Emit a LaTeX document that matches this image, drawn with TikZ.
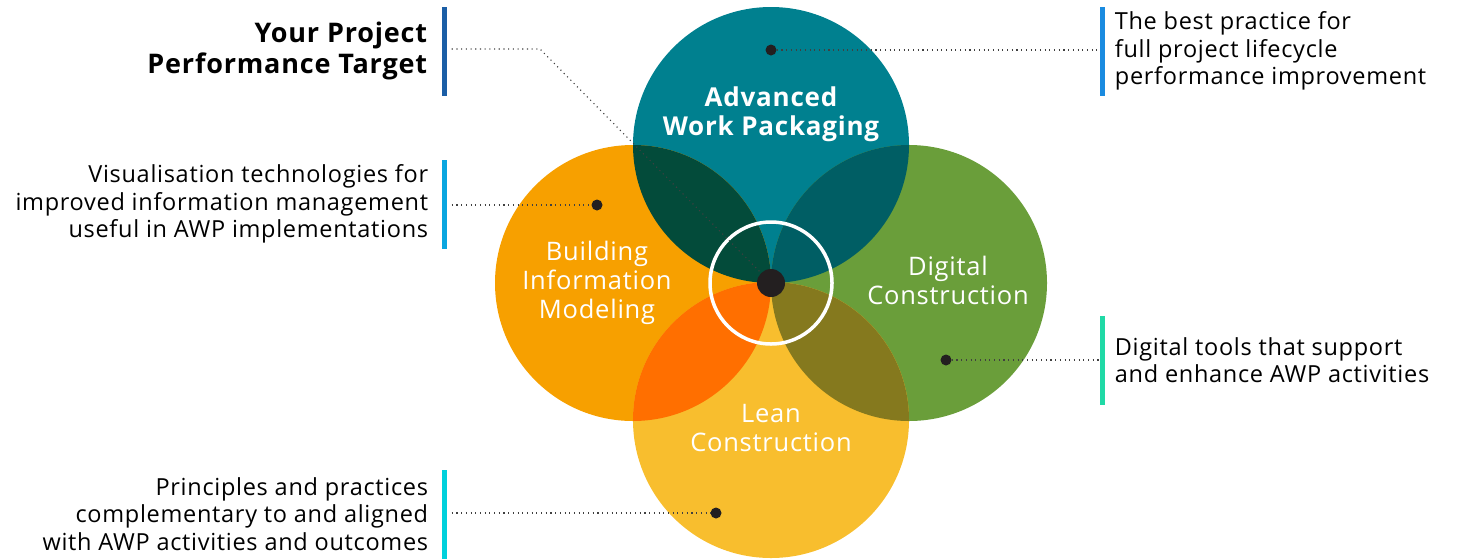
\documentclass[tikz,border=0pt]{standalone}
\usepackage{fontspec}
\setmainfont{Open Sans}[LetterSpace=3]
\usetikzlibrary{positioning}

\definecolor{awpteal}{RGB}{0,128,143}
\definecolor{bimorange}{RGB}{247,160,0}
\definecolor{dcgreen}{RGB}{106,158,58}
\definecolor{leanyellow}{RGB}{248,190,46}
\definecolor{lensTL}{RGB}{3,75,58}
\definecolor{lensTR}{RGB}{0,94,100}
\definecolor{lensBL}{RGB}{255,111,0}
\definecolor{lensBR}{RGB}{133,121,30}
\definecolor{barA}{RGB}{27,94,166}
\definecolor{barB}{RGB}{10,166,224}
\definecolor{barC}{RGB}{0,209,220}
\definecolor{barD}{RGB}{26,139,224}
\definecolor{barE}{RGB}{32,217,166}
\definecolor{dotink}{RGB}{35,31,32}

\begin{document}
\begin{tikzpicture}[x=1pt,y=-1pt,
    every node/.style={inner sep=0pt},
    desc/.style={font=\fontsize{23.5}{27.5}\selectfont,text=black},
    bubtext/.style={font=\fontsize{25.5}{29}\selectfont,text=white,align=center},
    bar/.style={rectangle,minimum width=5pt,minimum height=89pt},
    pin/.style={circle,fill=dotink,minimum size=11pt},
    leader/.style={draw=black!75,line width=1.1pt,dash pattern=on 1.1pt off 3.6pt}]
  \useasboundingbox (0,0) rectangle (1463,558);

  % centres of the four circles
  \coordinate (awp)  at (771,145);
  \coordinate (bim)  at (633,283);
  \coordinate (dc)   at (909,283);
  \coordinate (lean) at (771,420);

  \fill[awpteal]    (awp)  circle (138);
  \fill[bimorange]  (bim)  circle (138);
  \fill[dcgreen]    (dc)   circle (138);
  \fill[leanyellow] (lean) circle (138);

  % overlaps
  \begin{scope}
    \clip (awp) circle (138);
    \fill[lensTL] (bim) circle (138);
    \fill[lensTR] (dc) circle (138);
  \end{scope}
  \begin{scope}
    \clip (lean) circle (138);
    \fill[lensBL] (bim) circle (138);
    \fill[lensBR] (dc) circle (138);
  \end{scope}

  \draw[white,line width=3.5pt] (771,283) circle (61);

  % circle labels
  \node[bubtext,font=\fontsize{26}{29}\bfseries] (awplbl) at (771,114) {Advanced\\Work Packaging};
  \node[bubtext] (bimlbl)  at (597,283) {Building\\Information\\Modeling};
  \node[bubtext] (dclbl)   at (948,280) {Digital\\Construction};
  \node[bubtext] (leanlbl) at (771,428) {Lean\\Construction};

  % pins
  \node[pin,minimum size=28pt] (hub) at (771,283) {};
  \node[pin] (awppin)  at (771,50) {};
  \node[pin] (bimpin)  at (597,205) {};
  \node[pin] (dcpin)   at (946,360) {};
  \node[pin] (leanpin) at (716,513) {};

  % bars and texts
  \node[bar,fill=barA] (goalbar) at (444,51) {};
  \node[bar,fill=barB] (bimbar)  at (444,204) {};
  \node[bar,fill=barC] (leanbar) at (444,514) {};
  \node[bar,fill=barD] (awpbar)  at (1102,51) {};
  \node[bar,fill=barE] (dcbar)   at (1102,360) {};

  \node[desc,font=\fontsize{27}{31}\bfseries,align=right,left=14pt of goalbar] (goal)
    {Your Project \\Performance Target};
  \node[desc,align=right,left=13pt of bimbar] (bimtxt)
    {Visualisation technologies for\\improved information management\\useful in AWP implementations};
  \node[desc,align=right,left=13pt of leanbar] (leantxt)
    {Principles and practices\\complementary to and aligned\\with AWP activities and outcomes};
  \node[desc,align=left,right=10pt of awpbar] (awptxt)
    {The best practice for\\full project lifecycle\\performance improvement};
  \node[desc,align=left,right=10pt of dcbar] (dctxt)
    {Digital tools that support\\and enhance AWP activities};

  % leaders
  \coordinate (knee) at (540,49);
  \draw[leader] (goalbar.east |- knee) ++(5,0) -- (knee) -- (hub);
  \draw[leader] (awppin) -- (awpbar.west |- awppin);
  \draw[leader] (bimbar.east |- bimpin) ++(5,0) -- (bimpin);
  \draw[leader] (dcpin) -- (dcbar.west |- dcpin);
  \draw[leader] (leanbar.east |- leanpin) ++(5,0) -- (leanpin);
\end{tikzpicture}
\end{document}
